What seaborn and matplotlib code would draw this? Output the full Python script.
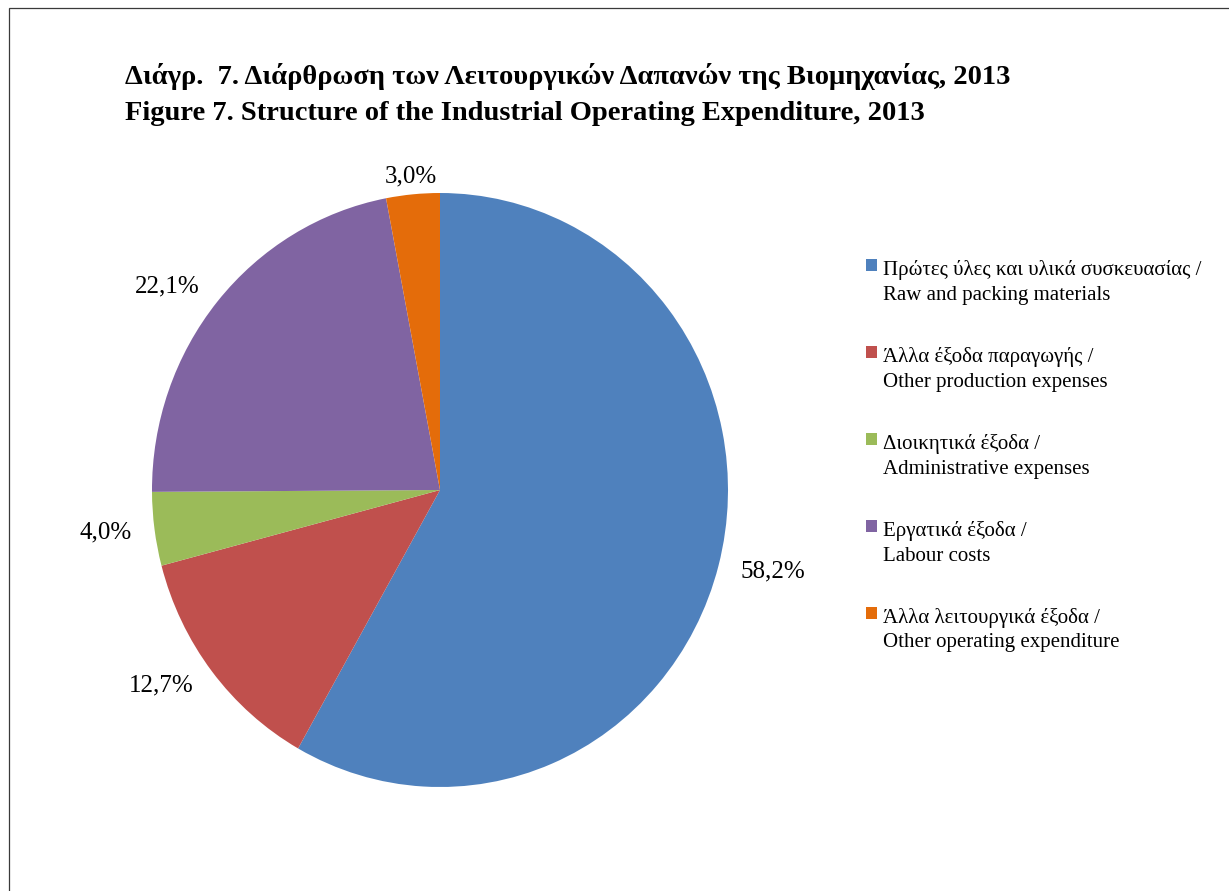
import matplotlib
matplotlib.use("Agg")
import matplotlib.pyplot as plt
import seaborn as sns
from matplotlib.patches import Rectangle
from matplotlib.legend_handler import HandlerPatch

# data
categories = [
    "Πρώτες ύλες και υλικά συσκευασίας /\nRaw and packing materials",
    "Άλλα έξοδα παραγωγής /\nOther production expenses",
    "Διοικητικά έξοδα /\nAdministrative expenses",
    "Εργατικά έξοδα /\nLabour costs",
    "Άλλα λειτουργικά έξοδα /\nOther operating expenditure",
]
shares = [58.2, 12.7, 4.0, 22.1, 3.0]
pct_labels = ["58,2%", "12,7%", "4,0%", "22,1%", "3,0%"]
colors = ["#4F81BD", "#C0504D", "#9BBB59", "#8064A2", "#E46C0A"]

title_gr = "Διάγρ.  7. Διάρθρωση των Λειτουργικών Δαπανών της Βιομηχανίας, 2013"
title_en = "Figure 7. Structure of the Industrial Operating Expenditure, 2013"

sns.set_theme(style="white")
plt.rcParams['font.family'] = ['Liberation Serif', 'DejaVu Serif']
plt.rcParams['text.color'] = 'black'

W, H = 1229, 891
fig = plt.figure(figsize=(W / 100, H / 100), dpi=100)

# pie area: center (440, 490), radii 288 x 297 px
cx, cy, rx, ry = 440, 490, 288, 297
ax = fig.add_axes([(cx - rx) / W, (H - cy - ry) / H, 2 * rx / W, 2 * ry / H])

wedges, texts = ax.pie(shares, labels=pct_labels, colors=sns.color_palette(colors),
                       startangle=90, counterclock=False, labeldistance=1.08,
                       wedgeprops=dict(linewidth=0),
                       textprops=dict(fontsize=18, color='black'))
ax.set_aspect('auto')
ax.set_xlim(-1, 1)
ax.set_ylim(-1, 1)
for t in texts:
    x, y = t.get_position()
    if abs(x) < 0.3:
        t.set_ha('center')
        t.set_position((x, y - 0.02))


class RaisedSquare(HandlerPatch):
    # put the square next to the first line of a two-line label
    def create_artists(self, legend, orig_handle, xdescent, ydescent, width,
                       height, fontsize, trans):
        p = Rectangle((-xdescent, -ydescent + 0.8 * fontsize), width, height,
                      facecolor=orig_handle.get_facecolor(), edgecolor='none',
                      transform=trans)
        return [p]


leg = fig.legend(wedges, categories, loc='upper left',
                 bbox_to_anchor=(847 / W, 1 - 241 / H), frameon=False,
                 fontsize=15, handlelength=0.55, handleheight=0.55,
                 handletextpad=0.3, labelspacing=2.02,
                 handler_map={w: RaisedSquare() for w in wedges})
for t in leg.get_texts():
    t.set_linespacing(1.42)
    t.set_color('black')

fig.text(125 / W, 1 - 84 / H, title_gr, fontsize=20.5, fontweight='bold', va='baseline')
fig.text(125 / W, 1 - 120 / H, title_en, fontsize=20.5, fontweight='bold', va='baseline')

# outer frame (only left and top visible)
fig.patches.append(Rectangle((8.5 / W, -0.1), 2, 1.1 - 8.5 / H, transform=fig.transFigure,
                             fill=False, edgecolor='#3a3a3a', linewidth=0.9))

fig.savefig("out.png", dpi=100)
